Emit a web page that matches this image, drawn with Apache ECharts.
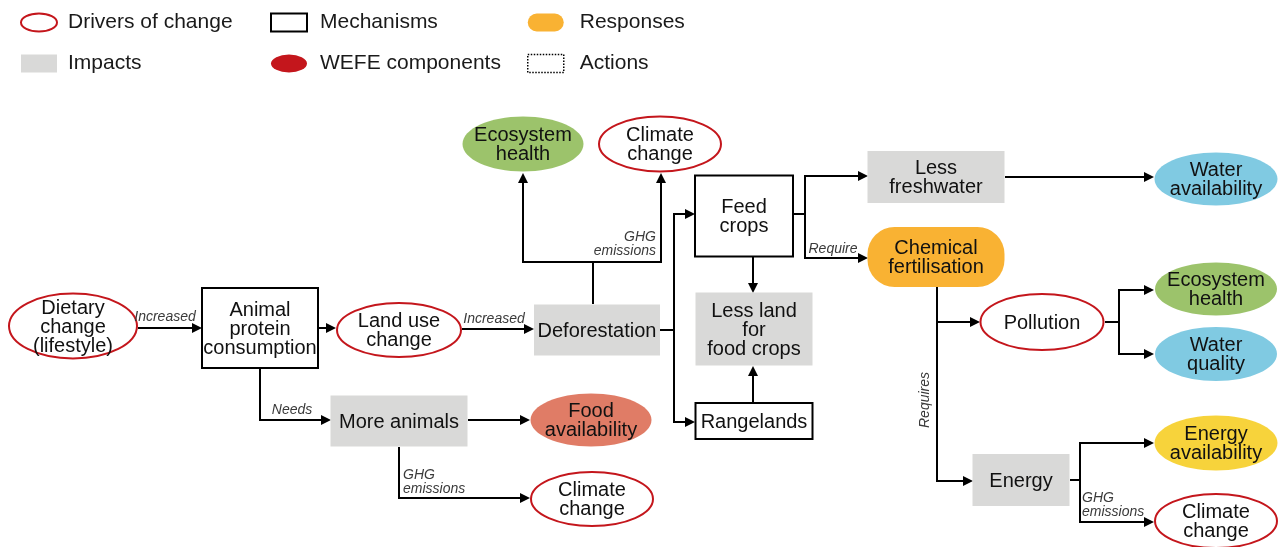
<!DOCTYPE html>
<html>
<head>
<meta charset="utf-8">
<script src="https://cdn.jsdelivr.net/npm/echarts@6/dist/echarts.min.js"></script>
<style>
  html, body { margin: 0; padding: 0; background: #fff; }
  #chart { width: 1281px; height: 547px; }
</style>
</head>
<body>
<div id="chart"></div>
<script>
(function () {
  'use strict';

  const FONT = '"Liberation Sans", Arial, sans-serif';

  // legend, column by column
  const legendColumns = [
    ['Drivers of change', 'Impacts'],
    ['Mechanisms', 'WEFE components'],
    ['Responses', 'Actions']
  ];

  // nodes of the diagram (canvas pixel space used as data space)
  const nodeLabels = [
    'Dietary\nchange\n(lifestyle)', 'Animal\nprotein\nconsumption', 'Land use\nchange', 'Deforestation',
    'Ecosystem\nhealth', 'Climate\nchange', 'Feed\ncrops', 'Less land\nfor\nfood crops', 'Rangelands',
    'Less\nfreshwater', 'Chemical\nfertilisation', 'Water\navailability', 'Pollution', 'Ecosystem\nhealth',
    'Water\nquality', 'Energy\navailability', 'Energy', 'Climate\nchange', 'More animals',
    'Food\navailability', 'Climate\nchange'
  ];
  const nodeKinds = [
    'driver', 'mechanism', 'driver', 'impact',
    'wefe', 'driver', 'mechanism', 'impact', 'mechanism',
    'impact', 'response', 'wefe', 'driver', 'wefe',
    'wefe', 'wefe', 'impact', 'driver', 'impact',
    'wefe', 'driver'
  ];
  const nodeCenters = [
    [73, 326], [260, 328], [399, 330], [597, 330],
    [523, 144], [660, 144], [744, 216], [754, 329], [754, 421],
    [936, 177], [936, 257], [1216, 179], [1042, 322], [1216, 289],
    [1216, 354], [1216, 443], [1021, 480], [1216, 521], [399, 421],
    [591, 420], [592, 499]
  ];
  const nodeSizes = [
    [130, 67], [116, 80], [126, 56], [126, 51],
    [123, 57], [124, 57], [98, 81], [117, 73], [117, 36],
    [137, 52], [137, 60], [125, 55], [125, 58], [124, 55],
    [124, 56], [125, 57], [97, 52], [124, 56], [137, 51],
    [123, 55], [124, 56]
  ];

  // connectors: way points, arrow at the last one
  const edgePaths = [
    [[138, 328], [202, 328]],
    [[318, 328], [336, 328]],
    [[462, 329], [534, 329]],
    [[593, 304], [593, 262], [523, 262], [523, 173]],
    [[593, 262], [661, 262], [661, 173]],
    [[660, 330], [674, 330], [674, 214], [695, 214]],
    [[674, 330], [674, 422], [695, 422]],
    [[753, 257], [753, 293]],
    [[753, 403], [753, 366]],
    [[793, 214], [805, 214], [805, 176], [868, 176]],
    [[805, 214], [805, 258], [868, 258]],
    [[1005, 177], [1154, 177]],
    [[937, 287], [937, 322], [980, 322]],
    [[937, 322], [937, 481], [973, 481]],
    [[1105, 322], [1119, 322], [1119, 290], [1154, 290]],
    [[1119, 322], [1119, 354], [1154, 354]],
    [[1070, 480], [1080, 480], [1080, 443], [1154, 443]],
    [[1080, 480], [1080, 522], [1154, 522]],
    [[260, 368], [260, 420], [331, 420]],
    [[468, 420], [530, 420]],
    [[399, 447], [399, 498], [530, 498]]
  ];

  const edgeLabels = ['Increased', 'Increased', 'GHG\nemissions', 'Require', 'Requires', 'Needs', 'GHG\nemissions', 'GHG\nemissions'];
  const edgeLabelAnchors = [[165, 317], [494, 319], [656, 244], [833, 249], [925, 400], [292, 410], [403, 482], [1082, 505]];
  const edgeLabelAligns = ['center', 'center', 'right', 'center', 'center', 'center', 'left', 'left'];
  const edgeLabelTurns = [0, 0, 0, 0, 90, 0, 0, 0];

  const kindSeries = [
    ['driver', 'Drivers of change'],
    ['impact', 'Impacts'],
    ['mechanism', 'Mechanisms'],
    ['wefe', 'WEFE components'],
    ['response', 'Responses'],
    ['action', 'Actions']
  ];

  const RED = '#c4161c';
  const wefeFill = {
    'Ecosystem\nhealth': '#9cc36b',
    'Water\navailability': '#80cae2',
    'Water\nquality': '#80cae2',
    'Food\navailability': '#e07c66',
    'Energy\navailability': '#f7d33b'
  };

  function nodeStyle(kind, label) {
    if (kind === 'driver') return { fill: '#fff', stroke: RED, lineWidth: 2 };
    if (kind === 'mechanism') return { fill: '#fff', stroke: '#000', lineWidth: 2 };
    if (kind === 'impact') return { fill: '#d9d9d8' };
    if (kind === 'response') return { fill: '#f9b233' };
    return { fill: wefeFill[label] || RED };
  }

  function renderNode(params, api) {
    const i = api.value(4);
    const kind = nodeKinds[i];
    const c = api.coord([api.value(0), api.value(1)]);
    const s = api.size([api.value(2), api.value(3)]);
    const w = Math.abs(s[0]);
    const h = Math.abs(s[1]);
    const style = nodeStyle(kind, nodeLabels[i]);
    const body = (kind === 'driver' || kind === 'wefe')
      ? { type: 'ellipse', shape: { cx: c[0], cy: c[1], rx: w / 2 - 1, ry: h / 2 - 1 }, style }
      : { type: 'rect', shape: { x: c[0] - w / 2, y: c[1] - h / 2, width: w, height: h, r: kind === 'response' ? 27 : 0 }, style };
    return {
      type: 'group',
      children: [body, {
        type: 'text',
        style: {
          text: nodeLabels[i], x: c[0], y: c[1] + 1, align: 'center', verticalAlign: 'middle',
          fontSize: 20, fontFamily: FONT, lineHeight: 19, fill: '#111'
        }
      }]
    };
  }

  function renderEdge(params, api) {
    const pts = edgePaths[api.value(2)].map((p) => api.coord(p));
    const n = pts.length;
    const tip = pts[n - 1];
    const prev = pts[n - 2];
    const dx = tip[0] - prev[0];
    const dy = tip[1] - prev[1];
    const len = Math.sqrt(dx * dx + dy * dy) || 1;
    const ux = dx / len, uy = dy / len;
    const L = 10, W = 5;
    const base = [tip[0] - ux * L, tip[1] - uy * L];
    const line = pts.slice(0, n - 1).concat([[base[0] + ux, base[1] + uy]]);
    return {
      type: 'group',
      children: [
        { type: 'polyline', shape: { points: line }, style: { stroke: '#000', lineWidth: 2, fill: null } },
        {
          type: 'polygon',
          shape: { points: [tip, [base[0] - uy * W, base[1] + ux * W], [base[0] + uy * W, base[1] - ux * W]] },
          style: { fill: '#000' }
        }
      ]
    };
  }

  function renderEdgeLabel(params, api) {
    const i = api.value(2);
    const c = api.coord([api.value(0), api.value(1)]);
    return {
      type: 'text',
      x: c[0],
      y: c[1],
      rotation: edgeLabelTurns[i] * Math.PI / 180,
      style: {
        text: edgeLabels[i], x: 0, y: 0, align: edgeLabelAligns[i], verticalAlign: 'middle',
        fontSize: 14, fontStyle: 'italic', fontFamily: FONT, lineHeight: 14.5, fill: '#3a3a3a'
      }
    };
  }

  const ellipseIcon = 'path://M0,9A18,9,0,1,1,36,9A18,9,0,1,1,0,9Z';
  const legendItems = {
    'Drivers of change': { icon: ellipseIcon, itemStyle: { color: '#fff', borderColor: RED, borderWidth: 2 } },
    'Impacts': { icon: 'rect', itemStyle: { color: '#d9d9d8', borderWidth: 0 } },
    'Mechanisms': { icon: 'rect', itemStyle: { color: '#fff', borderColor: '#000', borderWidth: 2 } },
    'WEFE components': { icon: ellipseIcon, itemStyle: { color: RED, borderWidth: 0 } },
    'Responses': { icon: 'path://M9,0H27A9,9,0,0,1,27,18H9A9,9,0,0,1,9,0Z', itemStyle: { color: '#f9b233', borderWidth: 0 } },
    'Actions': { icon: 'rect', itemStyle: { color: '#fff', borderColor: '#000', borderWidth: 1.5, borderType: 'dotted' } }
  };
  const legendLefts = [20, 270, 527];
  const legendTextGaps = [6, 8, 11];

  const series = kindSeries.map(([kind, name]) => ({
    name,
    type: 'custom',
    coordinateSystem: 'cartesian2d',
    renderItem: renderNode,
    silent: true,
    itemStyle: { color: kind === 'wefe' ? RED : '#999' },
    data: nodeKinds.map((k, i) => k === kind
      ? [nodeCenters[i][0], nodeCenters[i][1], nodeSizes[i][0], nodeSizes[i][1], i] : null).filter(Boolean),
    z: 3
  }));

  series.push({
    name: 'edges',
    type: 'custom',
    coordinateSystem: 'cartesian2d',
    renderItem: renderEdge,
    silent: true,
    data: edgePaths.map((p, i) => [p[0][0], p[0][1], i]),
    z: 2
  });

  series.push({
    name: 'edge labels',
    type: 'custom',
    coordinateSystem: 'cartesian2d',
    renderItem: renderEdgeLabel,
    silent: true,
    data: edgeLabelAnchors.map((p, i) => [p[0], p[1], i]),
    z: 4
  });

  const chart = echarts.init(document.getElementById('chart'), null, { renderer: 'canvas' });
  chart.setOption({
    backgroundColor: '#fff',
    animation: false,
    grid: { left: 0, right: 0, top: 0, bottom: 0 },
    xAxis: { type: 'value', min: 0, max: 1281, show: false },
    yAxis: { type: 'value', min: 0, max: 547, inverse: true, show: false },
    legend: legendColumns.map((names, col) => ({
      orient: 'vertical',
      left: legendLefts[col],
      top: 12,
      padding: 0,
      itemWidth: 36,
      itemHeight: 18,
      itemGap: 20,
      selectedMode: false,
      textStyle: {
        fontSize: 21, fontFamily: FONT, color: '#1a1a1a', lineHeight: 21,
        padding: [0, 0, 0, legendTextGaps[col]]
      },
      data: names.map((name) => Object.assign({ name }, legendItems[name]))
    })),
    series
  });

  window.addEventListener('resize', () => chart.resize());
})();
</script>
</body>
</html>
